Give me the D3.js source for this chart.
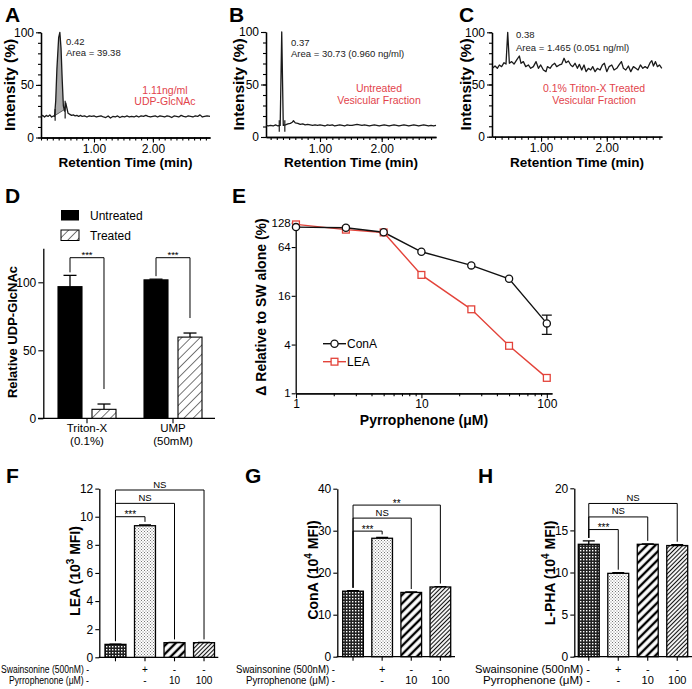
<!DOCTYPE html>
<html><head><meta charset="utf-8">
<script src="https://cdn.jsdelivr.net/npm/d3@7"></script>
<style>body{margin:0;background:#fff}</style>
</head><body><svg id="c" width="692" height="689"></svg>
<script>
// ================= DATA =================
const traceA = [[0.10,20],[0.13,21],[0.16,19.5],[0.19,21],[0.22,20],[0.25,21.5],[0.28,19.5],[0.31,20.5],[0.33,20],[0.35,35],[0.37,65],[0.40,95],[0.42,100],[0.44,85],[0.46,55],[0.48,30],[0.50,25],[0.52,33],[0.54,28],[0.56,23],[0.59,22],[0.62,21],[0.65,21.5],[0.68,20.5],[0.71,21],[0.74,20],[0.77,21],[0.80,20],[0.84,20.5],[0.88,19.5],[0.92,20.5],[0.96,20],[1.00,20.5],[1.04,19.5],[1.08,20],[1.12,20.5],[1.16,19.5],[1.20,19],[1.24,20.5],[1.28,18.5],[1.32,20],[1.36,19.5],[1.40,20.5],[1.44,19],[1.48,20],[1.52,19.5],[1.56,20.5],[1.60,19.5],[1.64,20],[1.68,19.5],[1.72,20.5],[1.76,19.5],[1.80,20.5],[1.84,20],[1.88,21],[1.92,20],[1.96,19.5],[2.00,20],[2.04,20.5],[2.08,19.5],[2.12,20.5],[2.16,20],[2.20,19.5],[2.24,20.5],[2.28,20],[2.32,19],[2.36,20.5],[2.40,20],[2.44,19.5],[2.48,21],[2.52,20],[2.56,19.5],[2.60,20.5],[2.64,20],[2.68,19.5],[2.72,20.5],[2.76,20],[2.80,21.5],[2.84,19.5],[2.88,20],[2.92,20.5],[2.97,20]];
const peakBaseA = [[0.34,21],[0.51,27]];
const marksA = [[0.34,16,27],[0.51,18,35]];
const traceB = [[0.125,11],[0.16,10.5],[0.20,11],[0.24,10.5],[0.28,11.5],[0.32,10.5],[0.355,11],[0.38,100],[0.405,11],[0.44,11.5],[0.48,12.5],[0.52,13],[0.55,14],[0.57,15.5],[0.60,13.5],[0.64,13],[0.68,12],[0.72,12.5],[0.76,11.5],[0.80,12],[0.84,11.5],[0.88,11],[0.92,11.5],[0.96,11],[1.00,11.5],[1.04,11],[1.08,10.5],[1.12,11.5],[1.16,11],[1.20,11.5],[1.24,10.5],[1.28,11],[1.32,11.5],[1.36,11],[1.40,10.5],[1.44,11.5],[1.48,11],[1.52,11],[1.56,11.5],[1.60,12],[1.64,11.5],[1.68,11],[1.72,11.5],[1.76,11],[1.80,10.5],[1.84,11],[1.88,11.5],[1.92,11],[1.96,10.5],[2.00,11],[2.04,11.5],[2.08,11],[2.12,10.5],[2.16,11],[2.20,11.5],[2.24,11],[2.28,10.5],[2.32,11],[2.36,11.5],[2.40,11],[2.44,10.5],[2.48,11],[2.52,11.5],[2.56,11],[2.60,10.5],[2.64,11],[2.68,11.5],[2.72,11],[2.76,10.5],[2.80,11],[2.84,10.5],[2.88,11]];
const marksB = [[0.34,5,16],[0.43,5,16]];
const traceC = [[0.26,65.5],[0.30,67.7],[0.335,65.5],[0.366,68.7],[0.40,67.1],[0.437,70.9],[0.467,69.6],[0.493,100],[0.518,70.3],[0.553,71.9],[0.589,69.6],[0.63,73.5],[0.67,77.3],[0.696,70.3],[0.731,71.9],[0.767,67.1],[0.807,68.7],[0.843,65.5],[0.883,67.1],[0.924,71.9],[0.96,65.5],[0.995,68.7],[1.036,63.9],[1.076,62.3],[1.097,67.1],[1.137,65.5],[1.173,68.7],[1.208,70.3],[1.238,67.1],[1.279,68.7],[1.315,69.6],[1.35,75.1],[1.38,70.9],[1.416,72.5],[1.451,68.7],[1.482,67.1],[1.517,70.3],[1.553,65.5],[1.583,69.3],[1.619,63.9],[1.654,68.7],[1.685,62.3],[1.72,65.5],[1.756,63.9],[1.786,67.1],[1.822,62.3],[1.857,65.5],[1.898,63.9],[1.933,68.7],[1.964,70.3],[2.0,62.3],[2.035,67.1],[2.076,68.7],[2.111,63.9],[2.152,65.5],[2.192,69.3],[2.223,71.9],[2.253,65.5],[2.289,63.9],[2.329,67.7],[2.365,62.3],[2.405,67.1],[2.441,65.5],[2.476,63.9],[2.512,68.7],[2.548,65.5],[2.583,67.1],[2.619,65.5],[2.659,70.9],[2.685,72.8],[2.71,67.7],[2.741,71.9],[2.771,67.1],[2.801,68.7],[2.837,65.5]];
const chromYTicks = [0,50,100];
const chromXTicks = [1,2];

const dGroups = ['Triton-X','UMP'];
const dGroupSub = ['(0.1%)','(50mM)'];
const dSeries = ['Untreated','Treated'];
const dUntreated = [96.8, 101.8];
const dUntreatedErr = [8.3, 0.5];
const dTreated = [6.6, 59.7];
const dTreatedErr = [3.9, 3.0];
const dYTicks = [0,50,100];

const eDose = [1,2.5,5,10,25,50,100];
const eConA = [113,111,97.5,56,38,26,7.3];
const eConAErr = [0,0,0,0,0,0,1.95];
const eLEA = [122,105,97,29,10.9,3.86,1.55];
const eYTicks = [1,4,16,64,128];
const eXTicks = [1,10,100];

const barCats = ['ctrl','sw','p10','p100'];
const swainsonine = ['-','+','-','-'];
const pyrrophenone = ['-','-','10','100'];
const fVals = [0.92,9.36,1.04,1.04], fErr = [0.02,0.06,0.02,0.02];
const gVals = [15.6,28.2,15.3,16.6], gErr = [0.1,0.2,0.1,0.1];
const hVals = [13.35,9.9,13.35,13.2], hErr = [0.4,0.08,0.05,0.1];
const fSig = [[1,'***',10.0],[2,'NS',10.95],[3,'NS',11.9]];
const gSig = [[1,'***',29.9],[2,'NS',33.0],[3,'**',36.1]];
const hSig = [[1,'***',15.1],[2,'NS',16.6],[3,'NS',18.2]];

// ================= DRAW =================
const FONT = 'Arial, "Liberation Sans", Helvetica, sans-serif';
const RED = '#e2434b';
const svg = d3.select('#c');
svg.append('rect').attr('width',692).attr('height',689).attr('fill','#fff');
const defs = svg.append('defs');

function stripe(id, w, sw, color){
  const p = defs.append('pattern').attr('id',id).attr('patternUnits','userSpaceOnUse')
    .attr('width',w).attr('height',w).attr('patternTransform','rotate(45)');
  p.append('rect').attr('width',w).attr('height',w).attr('fill','#fff');
  p.append('line').attr('x1',w/2).attr('x2',w/2).attr('y1',0).attr('y2',w).attr('stroke',color).attr('stroke-width',sw);
}
stripe('hatchD',6.5,0.8,'#555');
stripe('thick',6,2.4,'#000');
stripe('fine',3,1.1,'#111');
{ const p = defs.append('pattern').attr('id','checker').attr('patternUnits','userSpaceOnUse').attr('width',3).attr('height',3);
  p.append('rect').attr('width',3).attr('height',3).attr('fill','#222');
  p.append('rect').attr('x',1).attr('y',1).attr('width',1.4).attr('height',1.4).attr('fill','#fff'); }
{ const p = defs.append('pattern').attr('id','stipple').attr('patternUnits','userSpaceOnUse').attr('width',3).attr('height',3);
  p.append('rect').attr('width',3).attr('height',3).attr('fill','#fff');
  p.append('rect').attr('x',0).attr('y',0).attr('width',1).attr('height',1).attr('fill','#777');
  p.append('rect').attr('x',1.5).attr('y',1.5).attr('width',1).attr('height',1).attr('fill','#777'); }
const barFills = ['url(#checker)','url(#stipple)','url(#thick)','url(#fine)'];

function text(x,y,s,o={}){
  const t = svg.append('text').attr('x',x).attr('y',y).text(s)
    .attr('font-family',FONT).attr('font-size',o.size||12)
    .attr('font-weight',o.bold?'bold':'normal').attr('fill',o.fill||'#000')
    .attr('text-anchor',o.anchor||'start');
  if(o.len) t.attr('textLength',o.len).attr('lengthAdjust','spacingAndGlyphs');
  return t;
}
function vtext(cx,cy,s,size){
  return svg.append('text').attr('transform',`translate(${cx},${cy}) rotate(-90)`)
    .attr('text-anchor','middle').attr('dy','0.35em').attr('font-family',FONT)
    .attr('font-size',size).attr('font-weight','bold').text(s);
}
function styleAxis(g,fs){
  g.select('.domain').attr('stroke','#000').attr('stroke-width',1.3);
  g.selectAll('.tick line').attr('stroke','#000').attr('stroke-width',1.1);
  g.selectAll('.tick text').attr('font-family',FONT).attr('font-size',fs||12).attr('fill','#000');
}

// ---------- Chromatograms A, B, C ----------
function chrom(o){
  const x = d3.scaleLinear().domain(o.dom).range([o.left,o.right]);
  const y = d3.scaleLinear().domain([0,100]).range([o.bottom,o.top]);
  let ga = svg.append('g').attr('transform',`translate(${o.left},0)`)
    .call(d3.axisLeft(y).tickValues(d3.range(0,101,10)).tickSize(3).tickSizeOuter(0).tickFormat(''));
  styleAxis(ga);
  ga = svg.append('g').attr('transform',`translate(${o.left},0)`)
    .call(d3.axisLeft(y).tickValues(chromYTicks).tickSize(5).tickSizeOuter(0).tickPadding(2));
  styleAxis(ga);
  const minor = d3.range(Math.ceil(o.dom[0]*10),Math.floor(o.dom[1]*10)+1).map(d=>d/10);
  ga = svg.append('g').attr('transform',`translate(0,${o.bottom})`)
    .call(d3.axisBottom(x).tickValues(minor).tickSize(3).tickSizeOuter(0).tickFormat(''));
  styleAxis(ga);
  ga = svg.append('g').attr('transform',`translate(0,${o.bottom})`)
    .call(d3.axisBottom(x).tickValues(chromXTicks).tickSize(5).tickSizeOuter(0).tickFormat(d3.format('.2f')).tickPadding(2));
  styleAxis(ga);
  if(o.fill){
    const [p0,p1] = o.fill;
    const interp = d3.scaleLinear().domain(o.trace.map(d=>d[0])).range(o.trace.map(d=>d[1]));
    const pts = o.trace.filter(d=>d[0]>=p0[0]&&d[0]<=p1[0]);
    const inner = [[p0[0], interp(p0[0])], ...pts, [p1[0], interp(p1[0])]];
    const base = d3.scaleLinear().domain([p0[0],p1[0]]).range([p0[1],p1[1]]);
    svg.append('path').datum(inner).attr('fill','#aaa')
      .attr('d',d3.area().x(d=>x(d[0])).y0(d=>y(base(d[0]))).y1(d=>y(d[1])));
    svg.append('line').attr('x1',x(p0[0])).attr('x2',x(p1[0])).attr('y1',y(p0[1])).attr('y2',y(p1[1])).attr('stroke','#444').attr('stroke-width',0.8);
  }
  svg.append('path').datum(o.trace).attr('fill','none').attr('stroke','#1a1a1a').attr('stroke-width',1.3)
    .attr('stroke-linejoin','round').attr('d',d3.line().x(d=>x(d[0])).y(d=>y(d[1])));
  (o.marks||[]).forEach(m=>{
    svg.append('line').attr('x1',x(m[0])).attr('x2',x(m[0])).attr('y1',y(m[1])).attr('y2',y(m[2])).attr('stroke','#1a1a1a').attr('stroke-width',1.2);
  });
  text(o.letterX, 22, o.letter, {size:21,bold:true});
  vtext(o.ylabX, (o.top+o.bottom)/2, 'Intensity (%)', 15.5);
  text((o.left+o.right)/2, 167, 'Retention Time (min)', {size:13.5,bold:true,anchor:'middle'});
  o.notes.forEach(n=>text(n[0],n[1],n[2],{size:9.5,fill:'#222'}));
  o.red.forEach(n=>text(n[0],n[1],n[2],{size:10.5,fill:RED,anchor:'middle'}));
}
chrom({dom:[0.1,2.97],left:41,right:210,top:32.3,bottom:137.5,trace:traceA,fill:peakBaseA,marks:marksA,
  letter:'A',letterX:5,ylabX:10,notes:[[66,45,'0.42'],[66,56,'Area = 39.38']],red:[[165,94,'1.11ng/ml'],[165,105,'UDP-GlcNAc']]});
chrom({dom:[0.125,2.88],left:266,right:436,top:32,bottom:137,trace:traceB,marks:marksB,
  letter:'B',letterX:229,ylabX:239,notes:[[291,46,'0.37'],[291,57,'Area = 30.73 (0.960 ng/ml)']],red:[[379,92,'Untreated'],[379,104,'Vesicular Fraction']]});
chrom({dom:[0.254,2.84],left:492,right:662,top:32.3,bottom:136.7,trace:traceC,
  letter:'C',letterX:459,ylabX:466,notes:[[516,38,'0.38'],[516,51,'Area = 1.465 (0.051 ng/ml)']],red:[[594,92,'0.1% Triton-X Treated'],[594,104,'Vesicular Fraction']]});

// ---------- Panel D ----------
{
  const y = d3.scaleLinear().domain([0,125]).range([418.3,248.3]);
  const x0 = d3.scaleBand().domain(dGroups).range([44,216]).paddingInner(0).paddingOuter(0);
  const x1 = d3.scaleBand().domain(dSeries).range([-29,29]).paddingInner(0.294);
  let ga = svg.append('g').attr('transform','translate(43.3,0)')
    .call(d3.axisLeft(y).tickValues(dYTicks).tickSize(5).tickSizeOuter(0).tickPadding(2));
  styleAxis(ga);
  svg.append('line').attr('x1',38).attr('x2',215).attr('y1',y(0)).attr('y2',y(0)).attr('stroke','#000').attr('stroke-width',1.3);
  const vals = {Untreated:dUntreated, Treated:dTreated};
  const errs = {Untreated:dUntreatedErr, Treated:dTreatedErr};
  dGroups.forEach((gname,i)=>{
    const cx = x0(gname)+x0.bandwidth()/2;
    svg.append('line').attr('x1',cx).attr('x2',cx).attr('y1',y(0)).attr('y2',y(0)+5).attr('stroke','#000').attr('stroke-width',1.1);
    text(cx,432,gname,{anchor:'middle',size:11.5});
    text(cx,445,dGroupSub[i],{anchor:'middle',size:11.5});
    dSeries.forEach(s=>{
      const bx = cx + x1(s), bw = x1.bandwidth();
      const v = vals[s][i], e = errs[s][i];
      svg.append('line').attr('x1',bx+bw/2).attr('x2',bx+bw/2).attr('y1',y(v)).attr('y2',y(v+e)).attr('stroke','#000').attr('stroke-width',1.3);
      svg.append('line').attr('x1',bx+bw/2-6.5).attr('x2',bx+bw/2+6.5).attr('y1',y(v+e)).attr('y2',y(v+e)).attr('stroke','#000').attr('stroke-width',1.3);
      svg.append('rect').attr('x',bx).attr('y',y(v)).attr('width',bw).attr('height',y(0)-y(v))
        .attr('fill',s==='Untreated'?'#000':'url(#hatchD)').attr('stroke','#000').attr('stroke-width',1.1);
    });
    const lx = cx + x1('Untreated') + x1.bandwidth()/2, rx = cx + x1('Treated') + x1.bandwidth()/2;
    const top = 257.7;
    const lb = y(dUntreated[i]+dUntreatedErr[i]) - 3, rb = y(dTreated[i]+dTreatedErr[i]) - 15;
    svg.append('path').attr('d',`M${lx},${lb}V${top}H${rx}V${rb}`).attr('fill','none').attr('stroke','#000').attr('stroke-width',1);
    text((lx+rx)/2, top+0.5, '***', {size:9.5,anchor:'middle'});
  });
  svg.append('rect').attr('x',61).attr('y',210).attr('width',18).attr('height',10.5).attr('fill','#000');
  svg.append('rect').attr('x',61).attr('y',230).attr('width',18).attr('height',10.5).attr('fill','url(#hatchD)').attr('stroke','#000').attr('stroke-width',1);
  text(90,219.5,'Untreated');
  text(90,239.5,'Treated');
  vtext(12,332,'Relative UDP-GlcNAc',13);
  text(5,203,'D',{size:21,bold:true});
}

// ---------- Panel E ----------
{
  const x = d3.scaleLog().domain([1,110]).range([296,552]);
  const y = d3.scaleLog().base(2).domain([1,128]).range([393.3,222.7]);
  const minorX = [2,3,4,5,6,7,8,9,20,30,40,50,60,70,80,90];
  let ga = svg.append('g').attr('transform','translate(0,393.3)')
    .call(d3.axisBottom(x).tickValues(minorX).tickSize(3).tickSizeOuter(0).tickFormat(''));
  styleAxis(ga);
  ga = svg.append('g').attr('transform','translate(0,393.3)')
    .call(d3.axisBottom(x).tickValues(eXTicks).tickSize(5).tickSizeOuter(0).tickFormat(d3.format('d')).tickPadding(1));
  styleAxis(ga);
  ga = svg.append('g').attr('transform','translate(295.7,0)')
    .call(d3.axisLeft(y).tickValues(eYTicks).tickSize(4).tickSizeOuter(0).tickFormat(d3.format('d')).tickPadding(1));
  styleAxis(ga,11.5);
  const line = d3.line().x((d,i)=>x(eDose[i])).y(d=>y(d));
  svg.append('path').datum(eLEA).attr('d',line).attr('fill','none').attr('stroke','#e3433a').attr('stroke-width',1.4);
  svg.append('path').datum(eConA).attr('d',line).attr('fill','none').attr('stroke','#111').attr('stroke-width',1.4);
  eConA.forEach((v,i)=>{
    const e = eConAErr[i]; if(!e) return;
    const cx = x(eDose[i]);
    svg.append('path').attr('d',`M${cx},${y(v+e)}V${y(v-e)}M${cx-5},${y(v+e)}H${cx+5}M${cx-5},${y(v-e)}H${cx+5}`)
      .attr('stroke','#111').attr('stroke-width',1.3).attr('fill','none');
  });
  eLEA.forEach((v,i)=>{
    svg.append('rect').attr('x',x(eDose[i])-3.4).attr('y',y(v)-3.4).attr('width',6.8).attr('height',6.8)
      .attr('fill','#fff').attr('stroke','#e3433a').attr('stroke-width',1.3);
  });
  eConA.forEach((v,i)=>{
    svg.append('circle').attr('cx',x(eDose[i])).attr('cy',y(v)).attr('r',3.6)
      .attr('fill','#fff').attr('stroke','#111').attr('stroke-width',1.3);
  });
  svg.append('line').attr('x1',323).attr('x2',346).attr('y1',343.7).attr('y2',343.7).attr('stroke','#111').attr('stroke-width',1.4);
  svg.append('circle').attr('cx',334.5).attr('cy',343.7).attr('r',3.6).attr('fill','#fff').attr('stroke','#111').attr('stroke-width',1.3);
  text(347,348,'ConA');
  svg.append('line').attr('x1',323).attr('x2',346).attr('y1',361.7).attr('y2',361.7).attr('stroke','#e3433a').attr('stroke-width',1.4);
  svg.append('rect').attr('x',331.1).attr('y',358.3).attr('width',6.8).attr('height',6.8).attr('fill','#fff').attr('stroke','#e3433a').attr('stroke-width',1.3);
  text(347,366,'LEA');
  vtext(261,307,'\u0394 Relative to SW alone (%)',14);
  text(424,425,'Pyrrophenone (\u03bcM)',{size:14,bold:true,anchor:'middle'});
  text(232,203,'E',{size:21,bold:true});
}

// ---------- Panels F, G, H ----------
function barPanel(o){
  const y = d3.scaleLinear().domain([0,o.yMax]).range([o.bottom,o.top]);
  const x = d3.scaleBand().domain(barCats).range(o.band).paddingInner(0.29).paddingOuter(0);
  let ga = svg.append('g').attr('transform',`translate(${o.axisX},0)`)
    .call(d3.axisLeft(y).tickValues(o.yTicks).tickSize(4).tickSizeOuter(0).tickPadding(2));
  styleAxis(ga);
  svg.append('line').attr('x1',o.axisX-0.6).attr('x2',o.axisEnd).attr('y1',o.bottom).attr('y2',o.bottom).attr('stroke','#000').attr('stroke-width',1.3);
  const cx = c => x(c)+x.bandwidth()/2;
  const rs = o.rowSize || 11;
  barCats.forEach((c,i)=>{
    const v=o.vals[i], e=o.errs[i];
    svg.append('line').attr('x1',cx(c)).attr('x2',cx(c)).attr('y1',o.bottom).attr('y2',o.bottom+4).attr('stroke','#000').attr('stroke-width',1.1);
    svg.append('path').attr('d',`M${cx(c)},${y(v)}V${y(v+e)}M${cx(c)-6},${y(v+e)}H${cx(c)+6}`).attr('stroke','#000').attr('stroke-width',1.3);
    svg.append('rect').attr('x',x(c)).attr('y',y(v)).attr('width',x.bandwidth()).attr('height',o.bottom-y(v))
      .attr('fill',barFills[i]).attr('stroke','#000').attr('stroke-width',1.3);
    if(i>0){
      text(cx(c),673,swainsonine[i],{size:rs,anchor:'middle'});
      text(cx(c),684,pyrrophenone[i],{size:rs,anchor:'middle'});
    }
  });
  text(o.rowEnd,673,'Swainsonine (500nM) '+swainsonine[0],{size:rs,anchor:'end',len:o.swLen});
  text(o.rowEnd,684,'Pyrrophenone (\u03bcM) '+pyrrophenone[0],{size:rs,anchor:'end',len:o.pyLen});
  const lx = cx(barCats[0]);
  const leftBottom = y(o.vals[0]+o.errs[0]) - 3;
  o.sig.forEach(s=>{
    const j=s[0], rx=cx(barCats[j]), ty=y(s[2]);
    const rb = y(o.vals[j]+o.errs[j]) - 3;
    svg.append('path').attr('d',`M${lx},${leftBottom}V${ty}H${rx}V${rb}`).attr('fill','none').attr('stroke','#000').attr('stroke-width',1);
    const isStar = s[1].indexOf('*')>=0;
    text((lx+rx)/2, isStar? ty+1.5 : ty-2.5, s[1], {size:isStar?10:9.5,anchor:'middle'});
  });
  const t = svg.append('text').attr('transform',`translate(${o.ylabX},${o.ylabY}) rotate(-90)`)
    .attr('text-anchor','middle').attr('dy','0.35em').attr('font-family',FONT).attr('font-size',14).attr('font-weight','bold');
  t.append('tspan').text(o.ylab[0]+' (10');
  t.append('tspan').attr('dy',-6).attr('font-size',10).text(o.ylab[1]);
  t.append('tspan').attr('dy',6).text(' MFI)');
  text(o.letterX,483,o.letter,{size:21,bold:true});
}
barPanel({vals:fVals,errs:fErr,sig:fSig,yMax:12,yTicks:[0,2,4,6,8,10,12],top:488.6,bottom:657.3,axisX:99.3,axisEnd:218.3,
  band:[105,214.5],rowEnd:89,swLen:88,pyLen:80,rowSize:10,ylab:['LEA','3'],ylabX:75,ylabY:571,letter:'F',letterX:6});
barPanel({vals:gVals,errs:gErr,sig:gSig,yMax:40,yTicks:[0,10,20,30,40],top:488.7,bottom:656.7,axisX:337.3,axisEnd:455,
  band:[342.7,450.7],rowEnd:335,swLen:99,pyLen:89,ylab:['ConA','4'],ylabX:313,ylabY:570,letter:'G',letterX:245});
barPanel({vals:hVals,errs:hErr,sig:hSig,yMax:20,yTicks:[0,5,10,15,20],top:488.3,bottom:656.7,axisX:574.3,axisEnd:692,
  band:[578.3,687.7],rowEnd:590,swLen:115,pyLen:107,ylab:['L-PHA','4'],ylabX:550,ylabY:573,letter:'H',letterX:478});
</script>
</body></html>
